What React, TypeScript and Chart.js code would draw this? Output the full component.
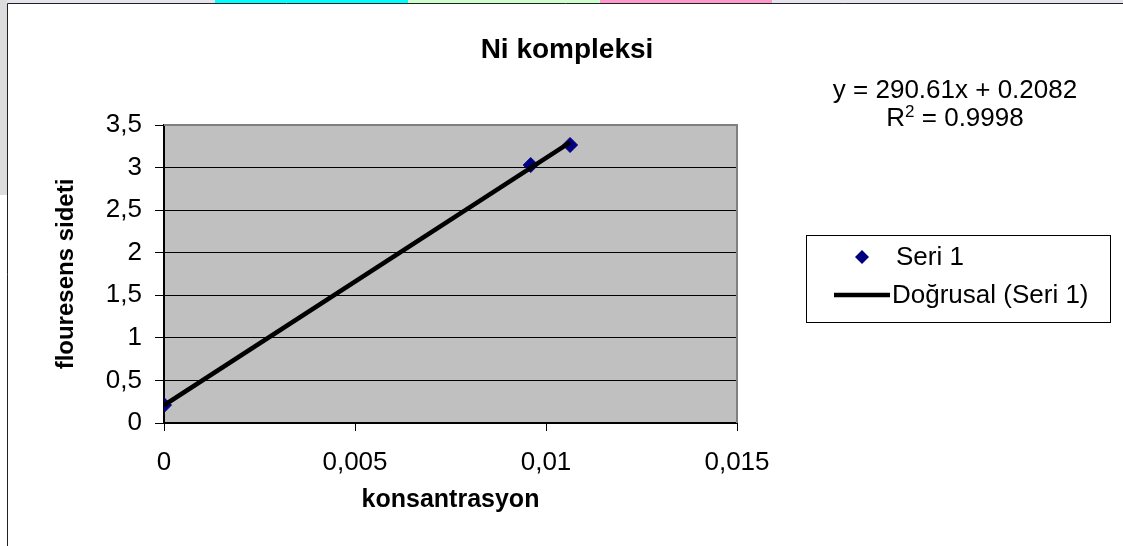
import React, { useEffect, useRef } from 'react';
import { Chart, registerables } from 'chart.js';

Chart.register(...registerables);

// ---- data ----
const seriesX = [0, 0.0096, 0.01063];
const seriesY = [0.21, 3.03, 3.265];
const trendX = [0, 0.01063];
const trendY = [0.2082, 3.297];
const xTickLabels = ['0', '0,005', '0,01', '0,015'];
const yTickLabels = ['0', '0,5', '1', '1,5', '2', '2,5', '3', '3,5'];
const titleText = 'Ni kompleksi';
const xTitle = 'konsantrasyon';
const yTitle = 'flouresens sideti';
const legendLabels = ['Seri 1', 'Doğrusal (Seri 1)'];
const equationText = 'y = 290.61x + 0.2082';
const r2Value = ' = 0.9998';

const FONT = 'Arial, "Liberation Sans", sans-serif';

const decor = {
  id: 'decor',
  beforeDraw(chart: any) {
    const { ctx, chartArea: a } = chart;
    const W = chart.width;
    const H = chart.height;
    ctx.save();
    ctx.fillStyle = '#ffffff';
    ctx.fillRect(0, 0, W, H);
    // screenshot edge strips
    ctx.fillStyle = '#e4e4ec';
    ctx.fillRect(0, 0, 215, 3);
    ctx.fillRect(772, 0, W - 772, 3);
    ctx.fillStyle = '#00ffff';
    ctx.fillRect(215, 0, 193, 3);
    ctx.fillStyle = '#ccffcc';
    ctx.fillRect(408, 0, 192, 3);
    ctx.fillStyle = '#ff99cc';
    ctx.fillRect(600, 0, 172, 3);
    ctx.fillStyle = '#dcdcdc';
    ctx.fillRect(0, 0, 7, 195);
    // outer frame
    ctx.strokeStyle = '#222';
    ctx.lineWidth = 1;
    ctx.beginPath();
    ctx.moveTo(7.5, H);
    ctx.lineTo(7.5, 3.5);
    ctx.lineTo(W, 3.5);
    ctx.stroke();
    // plot background
    ctx.fillStyle = '#c0c0c0';
    ctx.fillRect(a.left, a.top, a.right - a.left, a.bottom - a.top);
    ctx.restore();
  },
  beforeDatasetsDraw(chart: any) {
    const { ctx, chartArea: a } = chart;
    ctx.save();
    ctx.strokeStyle = '#808080';
    ctx.lineWidth = 2;
    ctx.beginPath();
    ctx.moveTo(a.left, a.top);
    ctx.lineTo(a.right, a.top);
    ctx.lineTo(a.right, a.bottom);
    ctx.stroke();
    ctx.restore();
  },
  afterDraw(chart: any) {
    const { ctx } = chart;
    ctx.save();
    ctx.fillStyle = '#000';
    ctx.textBaseline = 'middle';
    // title
    ctx.font = `bold 28px ${FONT}`;
    ctx.textAlign = 'center';
    ctx.fillText(titleText, 567, 50);
    // equation
    ctx.font = `26px ${FONT}`;
    ctx.fillText(equationText, 955, 91);
    // R^2 line
    ctx.textAlign = 'left';
    const wR = ctx.measureText('R').width;
    ctx.font = `17px ${FONT}`;
    const w2 = ctx.measureText('2').width;
    ctx.font = `26px ${FONT}`;
    const wV = ctx.measureText(r2Value).width;
    const x0 = 955 - (wR + w2 + wV) / 2;
    ctx.fillText('R', x0, 119);
    ctx.font = `17px ${FONT}`;
    ctx.fillText('2', x0 + wR, 112);
    ctx.font = `26px ${FONT}`;
    ctx.fillText(r2Value, x0 + wR + w2, 119);
    // legend box
    ctx.strokeStyle = '#000';
    ctx.lineWidth = 1;
    ctx.strokeRect(806.5, 235.5, 304, 87);
    // diamond
    ctx.fillStyle = '#000080';
    ctx.beginPath();
    ctx.moveTo(862 - 7, 257);
    ctx.lineTo(862, 257 - 7);
    ctx.lineTo(862 + 7, 257);
    ctx.lineTo(862, 257 + 7);
    ctx.closePath();
    ctx.fill();
    ctx.fillStyle = '#000';
    ctx.fillText(legendLabels[0], 896, 258);
    // line sample
    ctx.lineWidth = 4.5;
    ctx.beginPath();
    ctx.moveTo(834, 295);
    ctx.lineTo(890, 295);
    ctx.stroke();
    ctx.fillText(legendLabels[1], 892, 296);
    ctx.restore();
  },
};

export default function App() {
  const canvasRef = useRef<HTMLCanvasElement | null>(null);

  useEffect(() => {
    if (!canvasRef.current) return;
    Chart.defaults.font.family = FONT;
    const chart = new Chart(canvasRef.current, {
      type: 'scatter',
      data: {
        datasets: [
          {
            label: legendLabels[1],
            data: trendX.map((x, i) => ({ x, y: trendY[i] })),
            showLine: true,
            borderColor: '#000',
            backgroundColor: '#000',
            borderWidth: 4.5,
            pointRadius: 0,
            order: 1,
          },
          {
            label: legendLabels[0],
            data: seriesX.map((x, i) => ({ x, y: seriesY[i] })),
            pointStyle: 'rectRot',
            pointRadius: 7.5,
            backgroundColor: '#000080',
            borderColor: '#000080',
            borderWidth: 1,
            order: 2,
          },
        ],
      },
      options: {
        animation: false,
        responsive: false,
        devicePixelRatio: 1,
        layout: { padding: { top: 125, right: 386, left: 0, bottom: 0 } },
        plugins: {
          legend: { display: false },
          title: { display: false },
          tooltip: { enabled: false },
        },
        scales: {
          x: {
            type: 'linear',
            min: 0,
            max: 0.015,
            ticks: {
              stepSize: 0.005,
              autoSkip: false,
              maxRotation: 0,
              color: '#000',
              padding: 16,
              font: { size: 26, family: FONT },
              callback: (_v: any, i: number) => xTickLabels[i],
            },
            grid: { drawOnChartArea: false, drawTicks: true, tickLength: 8, color: '#000', lineWidth: 1 },
            border: { display: true, color: '#000', width: 2 },
            title: {
              display: true,
              text: xTitle,
              color: '#000',
              font: { size: 25, weight: 'bold', family: FONT },
              padding: { top: 0, bottom: 31 },
            },
            afterFit: (s: any) => {
              s.height = 123;
            },
          },
          y: {
            type: 'linear',
            min: 0,
            max: 3.5,
            ticks: {
              stepSize: 0.5,
              autoSkip: false,
              color: '#000',
              padding: 13,
              font: { size: 26, family: FONT },
              callback: (_v: any, i: number) => yTickLabels[i],
            },
            grid: { drawOnChartArea: true, drawTicks: true, tickLength: 9, color: '#000', lineWidth: 1 },
            border: { display: true, color: '#000', width: 2 },
            title: {
              display: true,
              text: yTitle,
              color: '#000',
              font: { size: 24, weight: 'bold', family: FONT },
              padding: { top: 52, bottom: 0 },
            },
            afterFit: (s: any) => {
              s.width = 164;
            },
          },
        },
      } as any,
      plugins: [decor],
    });
    return () => chart.destroy();
  }, []);

  return (
    <div style={{ position: 'fixed', left: 0, top: 0, width: 1123, height: 546 }}>
      <canvas ref={canvasRef} width={1123} height={546} style={{ display: 'block', width: 1123, height: 546 }} />
    </div>
  );
}
